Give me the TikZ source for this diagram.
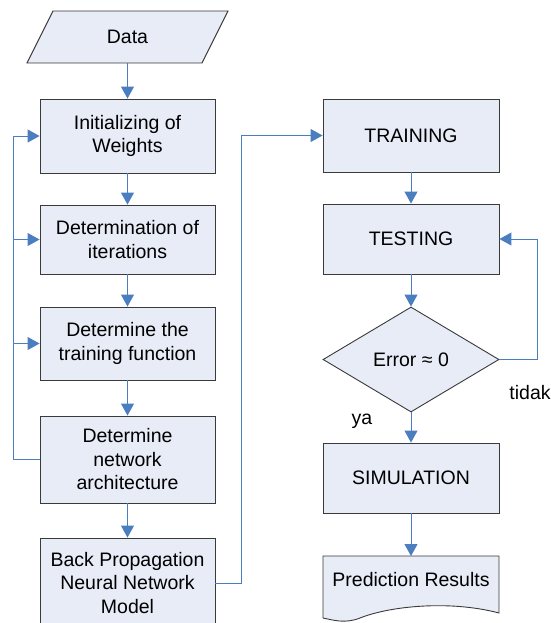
\documentclass[tikz,border=0pt]{standalone}
\usepackage{fontspec}
\setmainfont{Liberation Sans}
\usetikzlibrary{shapes.geometric,arrows.meta}
\definecolor{boxfill}{HTML}{E7ECF6}
\definecolor{boxline}{HTML}{3A3A3A}
\definecolor{conncol}{HTML}{4A7EBF}
\begin{document}
\begin{tikzpicture}[x=1pt,y=-1pt,
  every node/.style={font=\fontsize{19.5}{23.5}\selectfont},
  procbox/.style={draw=boxline,fill=boxfill,line width=0.9pt,minimum width=175pt,align=center,inner sep=0pt},
  conn/.style={draw=conncol,line width=1pt},
  arr/.style={conn,-{Triangle[length=12pt,width=13pt]}},
  lbl/.style={inner sep=0pt}]
\useasboundingbox (0,0) rectangle (550,623);
\clip (0,0) rectangle (550,623);
% Data parallelogram
\fill[boxfill] (53,11) -- (228,11) -- (202,63) -- (27,63) -- cycle;
\draw[boxline,line width=0.9pt] (53,11) -- (228,11) -- (202,63) -- (27,63) -- cycle;
\node[lbl,minimum width=175pt,minimum height=52pt] (data) at (127.5,37) {Data};
% left column
\node[procbox,minimum height=74pt] (b1) at (127.5,136) {Initializing of\\Weights};
\node[procbox,minimum height=69pt] (b2) at (127.5,239.5) {Determination of\\iterations};
\node[procbox,minimum height=73pt] (b3) at (127.5,343.5) {Determine the\\training function};
\node[procbox,minimum height=87pt] (b4) at (127.5,459.5) {Determine\\network\\architecture};
\node[procbox,minimum height=90pt] (b5) at (127.5,583) {Back Propagation\\Neural Network\\Model};
% right column
\node[procbox,minimum width=176pt,minimum height=73pt] (train) at (411,135.5) {TRAINING};
\node[procbox,minimum width=176pt,minimum height=70pt] (test) at (411,239) {TESTING};
\node[draw=boxline,fill=boxfill,line width=0.9pt,shape=diamond,aspect=1.676,minimum width=176pt,minimum height=105pt,inner sep=0pt] (err) at (411,359.5) {Error ≈ 0};
\node[procbox,minimum width=176pt,minimum height=70pt] (sim) at (411,478) {SIMULATION};
% document shape
\fill[boxfill] (323,556) -- (499,556) -- (499,613) .. controls (450,600) and (390,606) .. (360,618) .. controls (345,624) and (333,620) .. (323,618) -- cycle;
\draw[boxline,line width=0.9pt] (323,618) -- (323,556) -- (499,556) -- (499,613) .. controls (450,600) and (390,606) .. (360,618) .. controls (345,624) and (333,620) .. (323,618);
\node[lbl,minimum width=176pt,minimum height=40pt] (pred) at (411,580) {Prediction Results};
% labels
\node[lbl] (tidak) at (530,393) {tidak};
\node[lbl] (ya) at (362,421) {ya};
% connectors
\draw[arr] (data.south) -- (b1.north);
\draw[arr] (b1.south) -- (b2.north);
\draw[arr] (b2.south) -- (b3.north);
\draw[arr] (b3.south) -- (b4.north);
\draw[arr] (b4.south) -- (b5.north);
\coordinate (lx) at (13,0);
\draw[conn] (b4.west) -- (lx |- b4.west) -- (lx |- b1.west);
\draw[arr] (lx |- b1.west) -- (b1.west);
\draw[arr] (lx |- b2.west) -- (b2.west);
\draw[arr] (lx |- b3.west) -- (b3.west);
\coordinate (rx) at (241,0);
\draw[arr] (b5.east) -- (rx |- b5.east) -- (rx |- train.west) -- (train.west);
\draw[arr] (train.south) -- (test.north);
\draw[arr] (test.south) -- (err.north);
\coordinate (ex) at (537,0);
\draw[arr] (err.east) -- (ex |- err.east) -- (ex |- test.east) -- (test.east);
\draw[arr] (err.south) -- (sim.north);
\draw[arr] (sim.south) -- (411,556);
\end{tikzpicture}
\end{document}
